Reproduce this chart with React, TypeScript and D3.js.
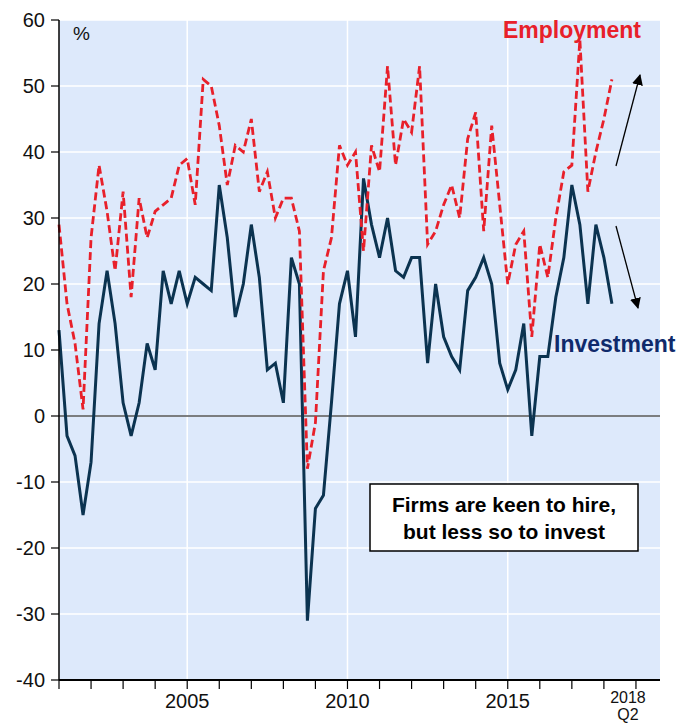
import React from "react";
import * as d3 from "d3";

// Quarterly balances, 2001Q1 .. 2018Q2 (%)
const investment = [
  13, -3, -6, -15, -7, 14, 22, 14, 2, -3, 2, 11, 7, 22, 17, 22, 17, 21, 20, 19,
  35, 27, 15, 20, 29, 21, 7, 8, 2, 24, 20, -31, -14, -12, 2, 17, 22, 12, 36, 29,
  24, 30, 22, 21, 24, 24, 8, 20, 12, 9, 7, 19, 21, 24, 20, 8, 4, 7, 14, -3,
  9, 9, 18, 24, 35, 29, 17, 29, 24, 17,
];
const employment = [
  29, 17, 11, 1, 27, 38, 31, 22, 34, 18, 33, 27, 31, 32, 33, 38, 39, 32, 51, 50,
  44, 35, 41, 40, 45, 34, 37, 30, 33, 33, 28, -8, -1, 22, 27, 41, 38, 40, 25, 41,
  37, 53, 38, 45, 43, 53, 26, 28, 32, 35, 30, 42, 46, 28, 44, 32, 20, 26, 28, 12,
  26, 21, 30, 37, 38, 57, 34, 40, 45, 51,
];
const firstYear = 2001;
const yearTicks = d3.range(2001, 2020);
const labelledYears = [2005, 2010, 2015];
const yTicks = [60, 50, 40, 30, 20, 10, 0, -10, -20, -30, -40];
const lastLabel = ["2018", "Q2"];

const W = 694;
const H = 724;
const left = 59;
const right = 660;
const top = 20;
const bottom = 680;
const FONT = "'Liberation Sans', Arial, Helvetica, sans-serif";

export default function App() {
  const x = d3.scaleLinear().domain([0, 75]).range([left, right]);
  const y = d3.scaleLinear().domain([-40, 60]).range([bottom, top]);
  const yearX = (yr: number) => x((yr - firstYear) * 4);

  const line = d3
    .line<number>()
    .x((_, i) => x(i))
    .y((d) => y(d))
    .curve(d3.curveLinear);

  const upArrow = { x1: 616, y1: 166, x2: 640, y2: 75 };
  const downArrow = { x1: 616, y1: 226, x2: 638, y2: 308 };

  return (
    <svg
      width={W}
      height={H}
      style={{ position: "absolute", left: 0, top: 0, background: "#fff" }}
      fontFamily={FONT}
    >
      <defs>
        <marker
          id="arrowHead"
          viewBox="0 0 10 10"
          refX="9"
          refY="5"
          markerWidth="11"
          markerHeight="11"
          markerUnits="userSpaceOnUse"
          orient="auto"
        >
          <path d="M0,0 L10,5 L0,10 z" fill="#000" />
        </marker>
      </defs>
      <rect x={left} y={top} width={right - left} height={bottom - top} fill="#dde9fb" />
      {yTicks.map((t) => (
        <line key={"g" + t} x1={left} x2={right} y1={y(t)} y2={y(t)} stroke="#fff" strokeWidth={1.5} />
      ))}
      {labelledYears.map((yr) => (
        <line key={"v" + yr} x1={yearX(yr)} x2={yearX(yr)} y1={top} y2={bottom} stroke="#fff" strokeWidth={1.5} />
      ))}
      <line x1={left} x2={right} y1={y(0)} y2={y(0)} stroke="#000" strokeWidth={1.1} />

      <path
        d={line(investment) || ""}
        fill="none"
        stroke="#0b3350"
        strokeWidth={3}
        strokeLinejoin="miter"
      />
      <path
        d={line(employment) || ""}
        fill="none"
        stroke="#e8202a"
        strokeWidth={2.8}
        strokeDasharray="8,4"
      />

      {/* axes */}
      <line x1={left} x2={left} y1={top} y2={bottom} stroke="#000" strokeWidth={1.5} />
      <line x1={left} x2={right} y1={bottom} y2={bottom} stroke="#000" strokeWidth={2} />
      {yTicks.map((t) => (
        <g key={"yt" + t}>
          <line x1={left - 8} x2={left} y1={y(t)} y2={y(t)} stroke="#000" strokeWidth={1.2} />
          <text x={45} y={y(t)} dy="0.36em" textAnchor="end" fontSize={20} fill="#111">
            {t}
          </text>
        </g>
      ))}
      {yearTicks.map((yr) => (
        <line key={"xt" + yr} x1={yearX(yr)} x2={yearX(yr)} y1={bottom} y2={bottom + 9} stroke="#000" strokeWidth={1.2} />
      ))}
      {labelledYears.map((yr) => (
        <text key={"xl" + yr} x={yearX(yr)} y={708} textAnchor="middle" fontSize={20} fill="#111">
          {yr}
        </text>
      ))}
      <text x={x(71)} y={703} textAnchor="middle" fontSize={16} fill="#111">
        {lastLabel[0]}
      </text>
      <text x={x(71)} y={720} textAnchor="middle" fontSize={16} fill="#111">
        {lastLabel[1]}
      </text>

      <text x={73} y={40} fontSize={19} fill="#111">%</text>
      <text x={503} y={38} fontSize={23} fontWeight="bold" fill="#e8202a">Employment</text>
      <text x={554} y={352} fontSize={23} fontWeight="bold" fill="#0f2a6b">Investment</text>

      <line {...upArrow} stroke="#000" strokeWidth={1.3} markerEnd="url(#arrowHead)" />
      <line {...downArrow} stroke="#000" strokeWidth={1.3} markerEnd="url(#arrowHead)" />

      <rect x={370} y={484} width={268} height={67} fill="#fff" stroke="#000" strokeWidth={1.5} />
      <text x={504} y={512} textAnchor="middle" fontSize={21} fontWeight="bold" fill="#000">
        Firms are keen to hire,
      </text>
      <text x={504} y={539} textAnchor="middle" fontSize={21} fontWeight="bold" fill="#000">
        but less so to invest
      </text>
    </svg>
  );
}
